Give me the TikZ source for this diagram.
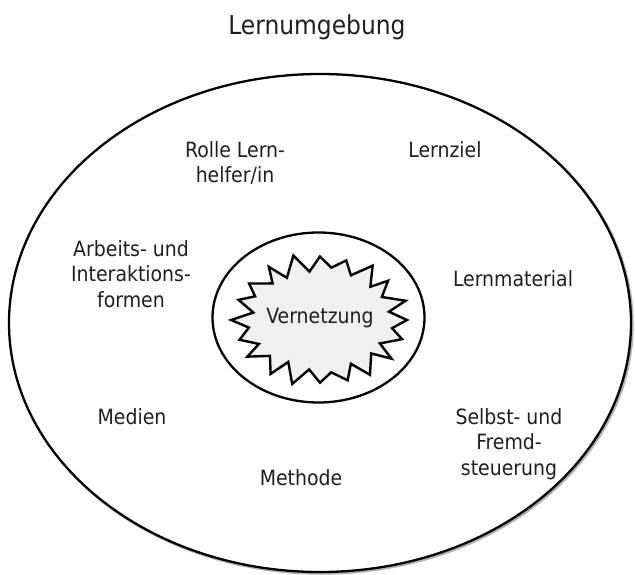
\documentclass[tikz,border=0pt]{standalone}
\usepackage{fontspec}
\setmainfont{DejaVu Sans Condensed}
\begin{document}
\begin{tikzpicture}[x=1pt,y=-1pt,
  lbl/.style={align=center,font=\fontsize{21}{25.5}\selectfont,text=black!88,inner sep=0pt},
  ttl/.style={font=\fontsize{26}{30}\selectfont,text=black!88,inner sep=0pt},
  burst/.style={draw=black,line width=2.4pt,fill=black!6,line join=miter},
  ring/.style={draw=black,line width=2.3pt}]
\useasboundingbox (0,0) rectangle (635,575);
% outer ellipse with slight shadow
\draw[black!30,line width=2.5pt] (321.5,324.5) ellipse [x radius=311, y radius=249];
\draw[ring,fill=white] (320,323) ellipse [x radius=311, y radius=249];
% inner ellipse
\draw[ring] (318.5,317.5) ellipse [x radius=106, y radius=85];
% starburst
\begin{scope}[shift={(320,320)}]
\draw[burst] (0:87 and 65)
  \foreach \k in {1,...,39}{
    -- ({\k*9}:{87-17*mod(\k,2)+3*sin(\k*97)} and {65-15*mod(\k,2)+3*sin(\k*131)})
  } -- cycle;
\end{scope}
\node[lbl] (vern) at (320,318) {Vernetzung};
% title
\node[ttl] (title) at (317,27) {Lernumgebung};
% labels
\node[lbl] (rolle) at (235,163) {Rolle Lern-\\helfer/in};
\node[lbl] (ziel) at (445,150) {Lernziel};
\node[lbl] (arbeit) at (131,274) {Arbeits- und\\Interaktions-\\formen};
\node[lbl] (mat) at (513,279) {Lernmaterial};
\node[lbl] (medien) at (132,417) {Medien};
\node[lbl] (methode) at (301,478) {Methode};
\node[lbl] (selbst) at (509,444) {Selbst- und\\Fremd-\\steuerung};
\end{tikzpicture}
\end{document}
